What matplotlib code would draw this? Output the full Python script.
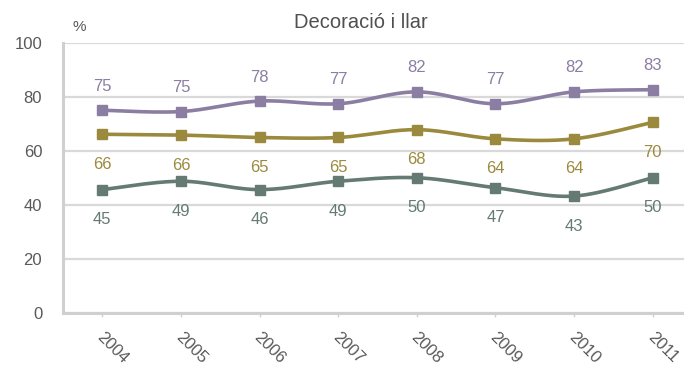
import numpy as np
import matplotlib
matplotlib.use('Agg')
import matplotlib.pyplot as plt
import matplotlib.transforms as mtransforms

plt.rcParams['font.family'] = ['Liberation Sans', 'DejaVu Sans']

# data
years = ['2004', '2005', '2006', '2007', '2008', '2009', '2010', '2011']
purple_vals = [75.1, 74.6, 78.5, 77.5, 81.9, 77.5, 81.9, 82.7]
purple_lbls = [75, 75, 78, 77, 82, 77, 82, 83]
olive_vals = [66.2, 65.9, 65.0, 65.0, 67.9, 64.5, 64.5, 70.6]
olive_lbls = [66, 66, 65, 65, 68, 64, 64, 70]
green_vals = [45.7, 48.8, 45.7, 48.8, 50.1, 46.4, 43.3, 50.1]
green_lbls = [45, 49, 46, 49, 50, 47, 43, 50]

PURPLE = '#8b7ea2'
OLIVE = '#9b8a3e'
GREEN = '#647a72'
TXT = '#595959'
GRID = '#d9d9d9'


def smooth(x, y, n=30):
    # Catmull-Rom style bezier smoothing (like spreadsheet "smoothed line")
    x = np.asarray(x, float)
    y = np.asarray(y, float)
    px = np.concatenate([[x[0]], x, [x[-1]]])
    py = np.concatenate([[y[0]], y, [y[-1]]])
    xs, ys = [], []
    t = np.linspace(0, 1, n)
    for i in range(1, len(px) - 2):
        p0 = np.array([px[i], py[i]])
        p3 = np.array([px[i + 1], py[i + 1]])
        p1 = p0 + (np.array([px[i + 1], py[i + 1]]) - np.array([px[i - 1], py[i - 1]])) / 6
        p2 = p3 - (np.array([px[i + 2], py[i + 2]]) - np.array([px[i], py[i]])) / 6
        b = ((1 - t) ** 3)[:, None] * p0 + (3 * (1 - t) ** 2 * t)[:, None] * p1 \
            + (3 * (1 - t) * t ** 2)[:, None] * p2 + (t ** 3)[:, None] * p3
        xs.append(b[:, 0])
        ys.append(b[:, 1])
    return np.concatenate(xs), np.concatenate(ys)


fig = plt.figure(figsize=(6.84, 3.68), dpi=100)
ax = fig.add_axes([63 / 684, 1 - 313 / 368, (692 - 63) / 684, (313 - 43) / 368])

x = np.arange(len(years))
series = [(purple_vals, purple_lbls, PURPLE, 24),
          (olive_vals, olive_lbls, OLIVE, -30),
          (green_vals, green_lbls, GREEN, -30)]
for vals, lbls, col, off in series:
    sx, sy = smooth(x, vals)
    ax.plot(sx, sy, color=col, lw=2.6, solid_capstyle='round', zorder=3)
    ax.plot(x, vals, ls='none', marker='s', ms=7.5, color=col, zorder=4)
    for xi, v, l in zip(x, vals, lbls):
        ax.annotate(str(l), (xi, v), xytext=(0, off * 0.72), textcoords='offset points',
                    ha='center', va='center', color=col, fontsize=12)

ax.set_xlim(-0.5, 7.5)
ax.set_ylim(0, 100)
ax.set_yticks([0, 20, 40, 60, 80, 100])
ax.yaxis.grid(True, color=GRID, lw=1.6)
ax.set_axisbelow(True)
for s in ['top', 'right']:
    ax.spines[s].set_visible(False)
for s in ['left', 'bottom']:
    ax.spines[s].set_color('#d0d0d0')
    ax.spines[s].set_linewidth(2.2)
ax.tick_params(axis='y', length=0, pad=15, labelsize=12, labelcolor=TXT)
ax.tick_params(axis='x', length=3, width=1, color='#d0d0d0', pad=9,
               labelsize=12, labelcolor=TXT)
ax.set_xticks(x)
ax.set_xticklabels(years, rotation=-45, ha='center', va='top')
shift = mtransforms.ScaledTranslation(0.10, 0, fig.dpi_scale_trans)
for lab in ax.get_xticklabels():
    lab.set_transform(lab.get_transform() + shift)

fig.text(79.5 / 684, 1 - 27 / 368, '%', ha='center', va='center', fontsize=11, color=TXT)
fig.text(361 / 684, 1 - 22 / 368, 'Decoració i llar', ha='center', va='center',
         fontsize=14.5, color='#505050')

fig.savefig('out.png', dpi=100)
